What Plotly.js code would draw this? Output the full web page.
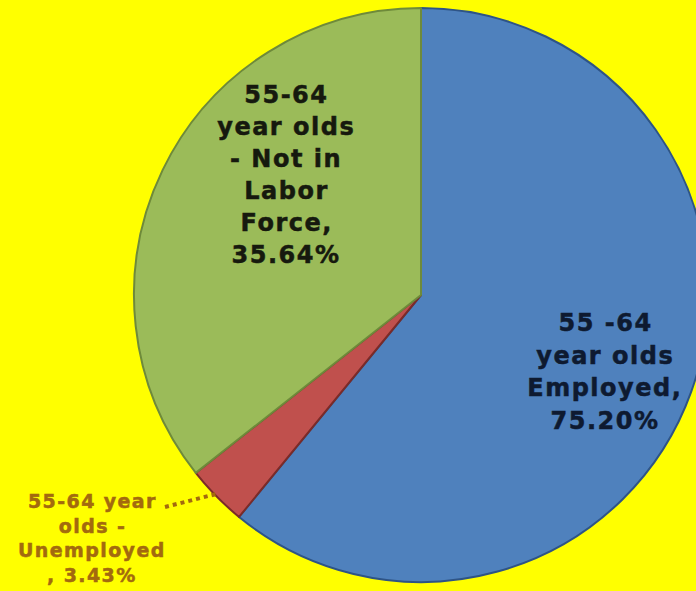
<!DOCTYPE html>
<html><head><meta charset="utf-8">
<script src="https://cdn.plot.ly/plotly-3.0.1.min.js"></script>
<style>html,body{margin:0;padding:0;overflow:hidden;background:#ffff00;width:696px;height:591px}</style>
</head><body><div id="chart"></div>
<script>
// ---- data ----
const categories = ['55 -64 year olds Employed', '55-64 year olds - Unemployed', '55-64 year olds - Not in Labor Force'];
const sliceShares = [60.93, 3.43, 35.64];          // angular share of each slice as drawn
const labelPercents = ['75.20%', '3.43%', '35.64%']; // values printed on the labels
const labelLines = [
  ['55 -64', 'year olds', 'Employed,'],
  ['55-64 year', 'olds -', 'Unemployed'],
  ['55-64', 'year olds', '- Not in', 'Labor', 'Force,']
];
const percentPrefix = ['', ', ', ''];
const sliceColors = ['#4F81BD', '#C0504D', '#9BBB59'];
const sliceBorders = ['#2E5486', '#7A2B29', '#6E8A3A'];

// ---- layout constants ----
const W = 720, H = 591;
const cx = 421, cy = 295, R = 287;
const labelStyle = [
  {x: 605, y0: 323, dy: 32.5, size: 24, color: '#0E1A30', ls: 1.5},
  {x: 92,  y0: 501, dy: 24.5, size: 19, color: '#A36A0E', ls: 1.4},
  {x: 286, y0: 95,  dy: 32,   size: 24, color: '#16190E', ls: 1.5}
];

const annotations = [];
const annSlice = [];
labelLines.forEach((lines, i) => {
  const all = lines.concat([percentPrefix[i] + labelPercents[i]]);
  const st = labelStyle[i];
  all.forEach((t, j) => {
    annSlice.push(i);
    annotations.push({
      text: t, showarrow: false, xref: 'paper', yref: 'paper',
      x: st.x / W, y: 1 - (st.y0 + j * st.dy) / H,
      xanchor: 'center', yanchor: 'middle',
      font: {family: 'DejaVu Sans, Verdana, sans-serif', size: st.size, color: st.color, weight: 'bold'}
    });
  });
});

// leader line for the small slice, ending on its outer edge at mid-angle
const total = sliceShares.reduce((a, b) => a + b, 0);
const midFrac = (sliceShares[0] + sliceShares[1] / 2) / total;
const ang = midFrac * 2 * Math.PI;
const ex = cx + (R - 4) * Math.sin(ang), ey = cy - (R - 4) * Math.cos(ang);
const shapes = [{
  type: 'line', xref: 'paper', yref: 'paper',
  x0: 165 / W, y0: 1 - 507 / H, x1: ex / W, y1: 1 - ey / H,
  line: {color: '#A36A0E', width: 4, dash: 'dot'}
}];

const trace = {
  type: 'pie',
  labels: categories,
  values: sliceShares,
  sort: false,
  direction: 'clockwise',
  rotation: 0,
  textinfo: 'none',
  hoverinfo: 'label',
  showlegend: false,
  marker: {colors: sliceColors, line: {color: sliceBorders, width: 2}},
  domain: {x: [(cx - R) / W, (cx + R) / W], y: [1 - (cy + R) / H, 1 - (cy - R) / H]}
};

Plotly.newPlot('chart', [trace], {
  width: W, height: H,
  margin: {l: 0, r: 0, t: 0, b: 0, pad: 0},
  paper_bgcolor: '#FFFF00', plot_bgcolor: '#FFFF00',
  showlegend: false,
  annotations: annotations,
  shapes: shapes
}, {staticPlot: true}).then(gd => {
  gd.querySelectorAll('.annotation-text').forEach((el, k) => {
    const st = labelStyle[annSlice[k]];
    el.style.letterSpacing = st.ls + 'px';
    el.style.stroke = st.color;
    el.style.strokeWidth = '0.5px';
  });
});
</script></body></html>
